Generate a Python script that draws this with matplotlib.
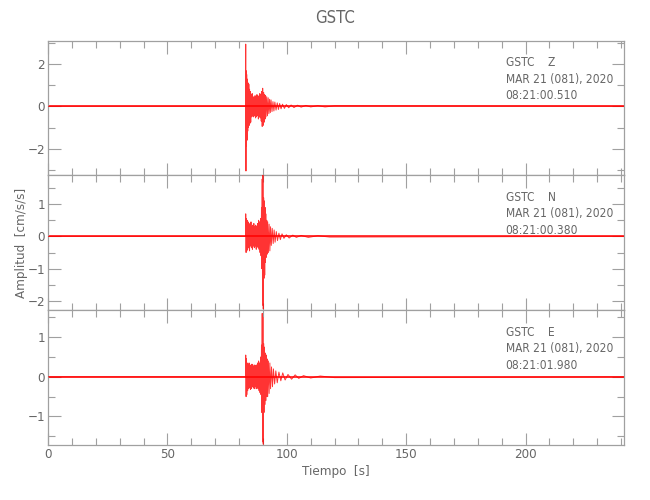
import matplotlib
matplotlib.use("Agg")
import matplotlib.pyplot as plt
from matplotlib.ticker import MultipleLocator

# Datos (estacion GSTC, 21 mar 2020)
estacion = "GSTC"
canales = ["Z", "N", "E"]
fechas = ["MAR 21 (081), 2020"] * 3
horas = ["08:21:00.510", "08:21:00.380", "08:21:01.980"]

t_max = 241.0

# Trazas: tiempos [s] y amplitudes [cm/s/s] de los picos leidos
t_z = [0, 82.7, 82.8, 82.9, 83.0, 83.1, 83.2, 83.35, 83.5, 83.65, 83.8, 83.95, 84.1, 84.25,
       84.4, 84.55, 84.7, 84.9, 85.1, 85.3, 85.5, 85.7, 85.9, 86.1, 86.3, 86.5, 86.7, 86.9,
       87.1, 87.3, 87.5, 87.7, 87.9, 88.1, 88.3, 88.5, 88.7, 88.9, 89.1, 89.3, 89.5, 89.7,
       89.9, 90.1, 90.3, 90.5, 90.7, 90.9, 91.1, 91.3, 91.6, 91.9, 92.2, 92.5, 92.8, 93.1,
       93.4, 93.8, 94.2, 94.6, 95.0, 95.5, 96.0, 96.5, 97.0, 97.6, 98.2, 99.0, 99.8, 100.8,
       101.8, 103.0, 104.5, 106.0, 108.0, 110.0, 113.0, 116.0, 120.0, 241.0]
a_z = [0, 0, 2.93, -3.05, 1.67, -1.87, 1.5, -1.6, 1.28, -1.17, 1.1, -1.0, 1.04, -0.9,
       0.8, -0.8, 0.7, -0.75, 0.55, -0.5, 0.6, -0.46, 0.45, -0.5, 0.4, -0.45, 0.5, -0.55,
       0.45, -0.5, 0.55, -0.45, 0.5, -0.6, 0.45, -0.5, 0.6, -0.55, 0.55, -0.7, 0.7, -0.95,
       0.85, -0.9, 0.65, -0.75, 0.55, -0.6, 0.5, -0.5, 0.45, -0.45, 0.4, -0.35, 0.33, -0.3,
       0.3, -0.25, 0.22, -0.22, 0.2, -0.18, 0.16, -0.15, 0.13, -0.12, 0.1, -0.1, 0.08, -0.07,
       0.06, -0.06, 0.05, -0.04, 0.04, -0.03, 0.03, -0.03, 0.02, 0]

t_n = [0, 82.7, 82.8, 82.95, 83.1, 83.25, 83.4, 83.6, 83.8, 84.0, 84.2, 84.4, 84.6, 84.8,
       85.0, 85.2, 85.4, 85.6, 85.8, 86.0, 86.2, 86.4, 86.6, 86.8, 87.0, 87.2, 87.4, 87.6,
       87.8, 88.0, 88.2, 88.4, 88.6, 88.8, 89.0, 89.2, 89.4, 89.55, 89.7, 89.85, 90.0, 90.15,
       90.3, 90.45, 90.6, 90.75, 90.9, 91.05, 91.2, 91.4, 91.6, 91.8, 92.0, 92.3, 92.6, 92.9,
       93.2, 93.5, 93.9, 94.3, 94.7, 95.1, 95.6, 96.1, 96.7, 97.3, 98.0, 98.8, 99.8, 101.0,
       102.5, 104.0, 106.0, 109.0, 113.0, 118.0, 241.0]
a_n = [0, 0, 0.7, -0.5, 0.55, -0.45, 0.5, -0.4, 0.45, -0.35, 0.4, -0.45, 0.35, -0.3,
       0.45, -0.35, 0.3, -0.4, 0.35, -0.3, 0.4, -0.35, 0.3, -0.3, 0.35, -0.4, 0.3, -0.3,
       0.4, -0.35, 0.5, -0.4, 0.45, -0.5, 0.55, -0.6, 0.9, -1.0, 1.78, -2.13, 1.9, -2.25,
       1.2, -1.3, 1.1, -1.2, 0.9, -0.8, 0.7, -0.65, 0.5, -0.55, 0.45, -0.5, 0.38, -0.45,
       0.3, -0.28, 0.25, -0.22, 0.2, -0.18, 0.15, -0.13, 0.1, -0.1, 0.08, -0.06, 0.05, -0.05,
       0.04, -0.03, 0.03, -0.03, 0.02, -0.02, 0]

t_e = [0, 82.7, 82.8, 82.95, 83.1, 83.25, 83.4, 83.6, 83.8, 84.0, 84.2, 84.4, 84.6, 84.8,
       85.0, 85.2, 85.4, 85.6, 85.8, 86.0, 86.2, 86.4, 86.6, 86.8, 87.0, 87.2, 87.4, 87.6,
       87.8, 88.0, 88.2, 88.4, 88.6, 88.8, 89.0, 89.2, 89.4, 89.55, 89.7, 89.85, 90.0, 90.15,
       90.3, 90.45, 90.6, 90.8, 91.0, 91.2, 91.4, 91.6, 91.8, 92.0, 92.3, 92.6, 92.9, 93.2,
       93.6, 94.0, 94.4, 94.9, 95.4, 96.0, 96.7, 97.5, 98.3, 99.3, 100.5, 102.0, 103.5, 105.0,
       107.0, 110.0, 114.0, 120.0, 241.0]
a_e = [0, 0, 0.55, -0.5, 0.46, -0.45, 0.35, -0.35, 0.3, -0.3, 0.35, -0.28, 0.3, -0.32,
       0.28, -0.3, 0.32, -0.25, 0.3, -0.28, 0.25, -0.3, 0.3, -0.25, 0.28, -0.3, 0.3, -0.28,
       0.35, -0.3, 0.4, -0.35, 0.35, -0.4, 0.5, -0.45, 0.8, -0.9, 1.6, -1.64, 1.5, -1.7,
       0.84, -0.9, 0.75, -0.7, 0.6, -0.6, 0.55, -0.5, 0.45, -0.5, 0.4, -0.42, 0.35, -0.3,
       0.25, -0.25, 0.2, -0.18, 0.15, -0.15, 0.12, -0.1, 0.1, -0.08, 0.06, -0.06, 0.05, -0.04,
       0.03, -0.03, 0.02, -0.02, 0]

ylims = [(-3.26, 3.09), (-2.29, 1.89), (-1.72, 1.68)]
y_mayor = [2, 1, 1]
y_menor = [1, 0.5, 0.5]

trazas = [(t_z, a_z), (t_n, a_n), (t_e, a_e)]

# Letra estrecha y fina, parecida a la del original
plt.rcParams["font.family"] = ["DejaVu Sans"]
plt.rcParams["font.stretch"] = "condensed"
plt.rcParams["font.weight"] = "light"

gris = "#666666"
gris_eje = "#a0a0a0"

fig = plt.figure(figsize=(6.5, 5), dpi=100)
izq, der = 48 / 650, 623.5 / 650
arriba, abajo = 1 - 40.7 / 500, 1 - 445 / 500
alto = (arriba - abajo) / 3

ejes = []
for i in range(3):
    ax = fig.add_axes([izq, arriba - (i + 1) * alto, der - izq, alto])
    ejes.append(ax)
    t, a = trazas[i]
    ax.axhline(0, color="red", lw=1.1, zorder=2)
    ax.plot(t, a, color="red", lw=0.7, alpha=0.8, zorder=3)
    ax.set_xlim(0, t_max)
    ax.set_ylim(*ylims[i])
    ax.xaxis.set_major_locator(MultipleLocator(50))
    ax.xaxis.set_minor_locator(MultipleLocator(10))
    ax.yaxis.set_major_locator(MultipleLocator(y_mayor[i]))
    ax.yaxis.set_minor_locator(MultipleLocator(y_menor[i]))
    ax.tick_params(which="both", direction="in", top=True, right=True,
                   colors=gris_eje, labelcolor=gris, labelsize=9.5, pad=2)
    ax.tick_params(which="major", length=9, width=0.8)
    ax.tick_params(which="minor", length=5, width=0.8)
    for s in ax.spines.values():
        s.set_color(gris_eje)
        s.set_linewidth(0.9)
    if i < 2:
        ax.tick_params(labelbottom=False)
    ax.text(0.795, 0.885, f"{estacion}    {canales[i]}\n{fechas[i]}\n{horas[i]}",
            transform=ax.transAxes, ha="left", va="top", color=gris,
            fontsize=8.6, linespacing=1.35)

ejes[2].set_xlabel("Tiempo  [s]", color=gris, fontsize=9.5, labelpad=3)
ejes[1].set_ylabel("Amplitud  [cm/s/s]", color=gris, fontsize=9.5)
ejes[1].yaxis.set_label_coords(-0.035, 0.5)
fig.text(0.516, 1 - 18 / 500, estacion, ha="center", va="center", color=gris, fontsize=12)

fig.savefig("out.png", dpi=100)
